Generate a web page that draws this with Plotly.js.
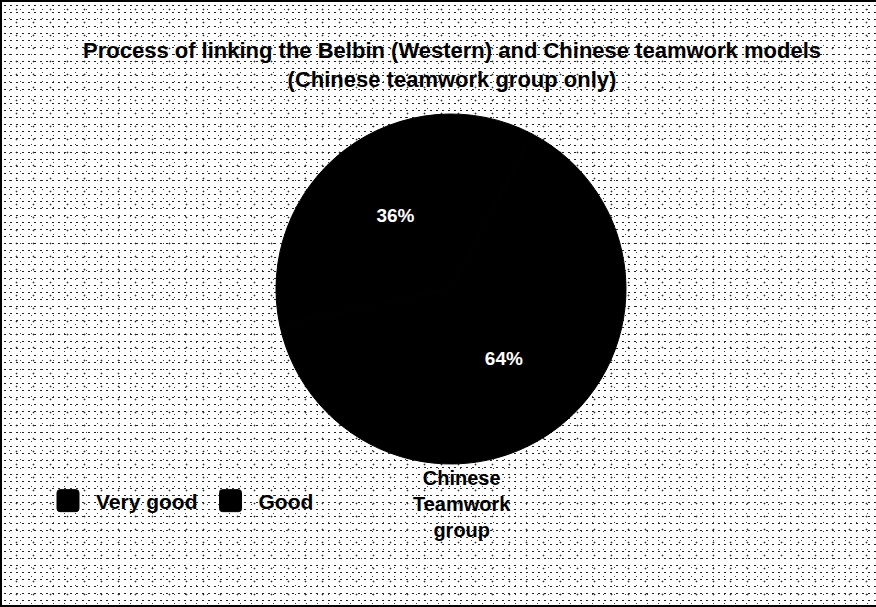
<!DOCTYPE html>
<html>
<head>
<meta charset="utf-8">
<script src="https://cdn.plot.ly/plotly-3.0.1.min.js"></script>
<style>
  html, body { margin: 0; padding: 0; background: #fff; }
  #wrap {
    position: absolute; left: 0; top: 0; width: 876px; height: 607px;
    box-sizing: border-box;
    border-left: 2px solid #000; border-top: 2px solid #000; border-bottom: 2px solid #000;
    background-color: #ffffff;
    background-image:
      radial-gradient(circle, #222 0.9px, transparent 1.1px),
      radial-gradient(circle, #444 0.8px, transparent 1px),
      radial-gradient(circle, #333 0.8px, transparent 1.1px);
    background-size: 6px 7px, 11px 9px, 17px 13px;
    background-position: 0 0, 2px 3px, 6px 1px;
  }
  #chart { position: absolute; left: 0; top: 0; width: 876px; height: 607px; }
</style>
</head>
<body>
<div id="wrap"></div>
<div id="chart"></div>
<script>
const categories = ["Very good", "Good"];
const values = [36, 64];
const groupLabel = "Chinese<br>Teamwork<br>group";
const chartTitle = "Process of linking the Belbin (Western) and Chinese teamwork models<br>(Chinese teamwork group only)";

const W = 876, H = 607;
const cx = 451, cy = 289, r = 175;
const FONT = "Liberation Sans, Arial, sans-serif";

const trace = {
  type: "pie",
  labels: categories,
  values: values,
  sort: false,
  direction: "clockwise",
  rotation: 258,
  marker: { colors: ["#000000", "#000000"], line: { width: 1, color: "#000000" } },
  textinfo: "percent",
  textposition: "inside",
  insidetextorientation: "horizontal",
  textfont: { family: FONT, size: 19, color: "#ffffff", weight: "bold" },
  domain: { x: [(cx - r) / W, (cx + r) / W], y: [(H - cy - r) / H, (H - cy + r) / H] },
  hoverinfo: "none"
};

const layout = {
  width: W, height: H,
  margin: { l: 0, r: 0, t: 0, b: 0 },
  paper_bgcolor: "rgba(0,0,0,0)",
  plot_bgcolor: "rgba(0,0,0,0)",
  font: { family: FONT, color: "#000" },
  title: {
    text: chartTitle,
    x: 452 / W, xanchor: "center",
    y: 1 - 58 / H, yref: "container", yanchor: "top",
    font: { family: FONT, size: 22, color: "#000", weight: "bold" }
  },
  showlegend: true,
  legend: {
    orientation: "h",
    x: 40 / W, xanchor: "left",
    y: 1 - 501 / H, yanchor: "middle",
    itemwidth: 46,
    bgcolor: "rgba(0,0,0,0)",
    font: { family: FONT, size: 21, color: "#000", weight: "bold" },
    itemclick: false
  },
  annotations: [{
    text: groupLabel,
    x: 462 / W, y: 1 - 504 / H, xref: "paper", yref: "paper",
    xanchor: "center", yanchor: "middle",
    showarrow: false, align: "center",
    font: { family: FONT, size: 20, color: "#000", weight: "bold" }
  }]
};

Plotly.newPlot("chart", [trace], layout, { displayModeBar: false, staticPlot: true }).then(function () {
  // enlarge legend swatches to rounded squares like the reference
  document.querySelectorAll(".legend .legendpoints path").forEach(function (p) {
    p.setAttribute("d", "M-8,-11H8A3,3 0 0 1 11,-8V8A3,3 0 0 1 8,11H-8A3,3 0 0 1 -11,8V-8A3,3 0 0 1 -8,-11Z");
  });
});
</script>
</body>
</html>
